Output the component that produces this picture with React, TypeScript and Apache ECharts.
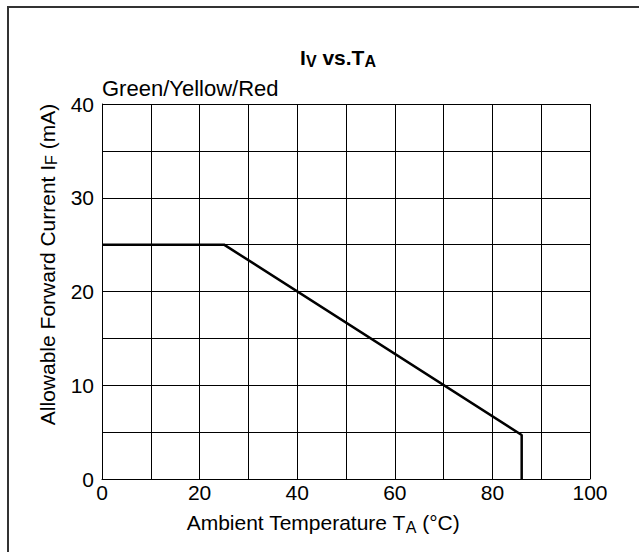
import React, { useEffect, useRef } from "react";
import * as echarts from "echarts";

const tempC: number[] = [0, 25, 86, 86];
const currentMA: number[] = [25, 25, 4.7, 0];
const xTicks: number[] = [0, 20, 40, 60, 80, 100];
const yTicks: number[] = [0, 10, 20, 30, 40];
const titleText = "{m|I}{s|V}{m| vs.T}{s|A}";
const subtitleText = "Green/Yellow/Red";
const xName = "{m|Ambient Temperature T}{s|A}{m| (°C)}";
const yName = "{m|Allowable Forward Current I}{s|F}{m| (mA)}";

const FONT = "'Liberation Sans', Arial, Helvetica, sans-serif";

export default function App() {
  const ref = useRef<HTMLDivElement>(null);
  useEffect(() => {
    if (!ref.current) return;
    const chart = echarts.init(ref.current, undefined, { renderer: "svg" });
    const richName = {
      m: { fontSize: 21, lineHeight: 21, verticalAlign: "top", fontFamily: FONT, color: "#000" },
      s: { fontSize: 16, lineHeight: 16, padding: [9, 0, 0, 0], fontFamily: FONT, color: "#000" },
    };
    const option = {
      animation: false,
      backgroundColor: "#fff",
      textStyle: { fontFamily: FONT },
      grid: { left: 102, right: 49, top: 104, bottom: 73, containLabel: false },
      graphic: [
        { type: "line", shape: { x1: 8, y1: 7, x2: 640, y2: 7 }, style: { stroke: "#333", lineWidth: 2 } },
        { type: "line", shape: { x1: 8, y1: 6, x2: 8, y2: 560 }, style: { stroke: "#333", lineWidth: 2 } },
        {
          type: "text",
          x: 338,
          y: 57,
          style: {
            text: titleText,
            align: "center",
            verticalAlign: "middle",
            rich: {
              m: { fontSize: 21, lineHeight: 21, fontWeight: "bold", verticalAlign: "top", fontFamily: FONT, fill: "#000" },
              s: { fontSize: 16, lineHeight: 16, fontWeight: "bold", padding: [9, 0, 0, 0], fontFamily: FONT, fill: "#000" },
            },
          },
        },
        {
          type: "text",
          x: 102,
          y: 88,
          style: { text: subtitleText, fontSize: 22, fontFamily: FONT, fill: "#000", align: "left", verticalAlign: "middle" },
        },
      ],
      xAxis: {
        type: "value",
        min: 0,
        max: 100,
        interval: 10,
        name: xName,
        nameLocation: "middle",
        nameGap: 33,
        nameTextStyle: { rich: richName, padding: [0, 46, 0, 0] },
        axisLine: { show: true, onZero: false, lineStyle: { color: "#000", width: 1 } },
        axisTick: { show: false },
        axisLabel: {
          fontSize: 21,
          color: "#000",
          fontFamily: FONT,
          margin: 3,
          formatter: (v: number) => (xTicks.includes(v) ? String(v) : ""),
        },
        splitLine: { show: true, lineStyle: { color: "#000", width: 1 } },
      },
      yAxis: {
        type: "value",
        min: 0,
        max: 40,
        interval: 5,
        name: yName,
        nameLocation: "middle",
        nameGap: 44,
        nameTextStyle: { rich: richName, padding: [0, 0, 0, 54] },
        axisLine: { show: true, onZero: false, lineStyle: { color: "#000", width: 1 } },
        axisTick: { show: false },
        axisLabel: {
          fontSize: 21,
          color: "#000",
          fontFamily: FONT,
          margin: 8,
          formatter: (v: number) => (yTicks.includes(v) ? String(v) : ""),
        },
        splitLine: { show: true, lineStyle: { color: "#000", width: 1 } },
      },
      series: [
        {
          type: "line",
          data: tempC.map((t, i) => [t, currentMA[i]]),
          showSymbol: false,
          symbol: "none",
          lineStyle: { color: "#000", width: 2.5 },
          clip: false,
        },
      ],
    };
    chart.setOption(option as any);
    return () => chart.dispose();
  }, []);
  return (
    <div
      ref={ref}
      style={{ position: "fixed", left: 0, top: 0, width: 639, height: 552, background: "#fff" }}
    />
  );
}
